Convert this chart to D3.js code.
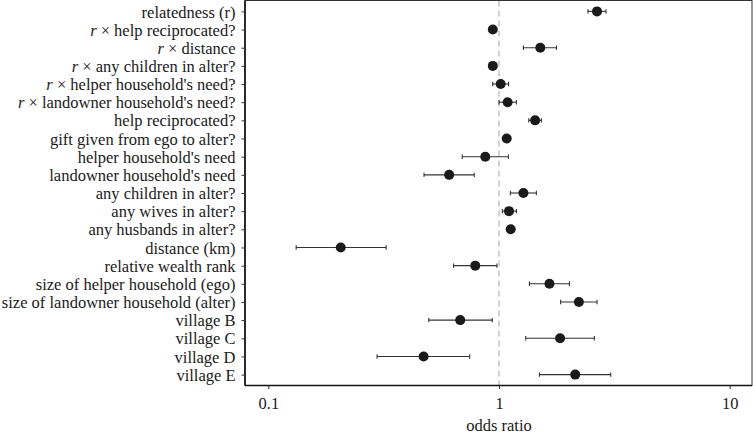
<!DOCTYPE html>
<html>
<head>
<meta charset="utf-8">
<script src="https://cdn.jsdelivr.net/npm/d3@7"></script>
<style>
  body { margin: 0; background: #fff; }
</style>
</head>
<body>
<div id="main"></div>
<script>
// term labels, top to bottom ("r" prefix is drawn in italics)
var terms = ["relatedness (r)", "r|help reciprocated?", "r|distance", "r|any children in alter?",
  "r|helper household's need?", "r|landowner household's need?", "help reciprocated?",
  "gift given from ego to alter?", "helper household's need", "landowner household's need",
  "any children in alter?", "any wives in alter?", "any husbands in alter?", "distance (km)",
  "relative wealth rank", "size of helper household (ego)", "size of landowner household (alter)",
  "village B", "village C", "village D", "village E"];
var est = [2.66, 0.94, 1.51, 0.94, 1.017, 1.09, 1.434, 1.08, 0.872, 0.608, 1.276, 1.105, 1.124,
  0.206, 0.789, 1.655, 2.22, 0.679, 1.84, 0.471, 2.14];
var lower = [2.43, 0.94, 1.276, 0.94, 0.939, 1.0, 1.346, 1.05, 0.693, 0.473, 1.12, 1.034, 1.10,
  0.132, 0.635, 1.355, 1.85, 0.496, 1.306, 0.296, 1.497];
var upper = [2.91, 0.94, 1.775, 0.94, 1.10, 1.19, 1.527, 1.11, 1.098, 0.781, 1.452, 1.19, 1.15,
  0.324, 0.98, 2.02, 2.66, 0.935, 2.59, 0.746, 3.05];
var xTicks = [0.1, 1, 10];

var w = 753, h = 434;
var m = {top: 0.5, right: 1, bottom: 48.5, left: 245};
var fs = 16.5;
var ff = "'Times', 'Liberation Serif', serif";

var svg = d3.select("#main").append("svg").
  attr("width", w).
  attr("height", h);

var x = d3.scaleLog().
  domain([0.0792, 12.5]).
  range([m.left, w - m.right]);

var y = d3.scalePoint().
  domain(terms).
  range([m.top, h - m.bottom]).
  padding(0.6);

var g = svg.append("g");

// reference line at 1
g.append("line").
  attr("x1", x(1)).attr("x2", x(1)).
  attr("y1", m.top).attr("y2", h - m.bottom).
  attr("stroke", "#c4c4c4").
  attr("stroke-width", 1.5).
  attr("stroke-dasharray", "6,4");

var rows = terms.map(function (t, i) {
  return {term: t, est: est[i], lo: lower[i], hi: upper[i]};
});

var bar = g.selectAll(".bar").
  data(rows).
  enter().
  append("g").
  attr("class", "bar").
  attr("stroke", "#333").
  attr("stroke-width", 1.1);

bar.append("line").
  attr("x1", function (d) {return x(d.lo);}).
  attr("x2", function (d) {return x(d.hi);}).
  attr("y1", function (d) {return y(d.term);}).
  attr("y2", function (d) {return y(d.term);});

bar.filter(function (d) {return d.hi > d.lo;}).
  selectAll(".cap").
  data(function (d) {return [[d.lo, d.term], [d.hi, d.term]];}).
  enter().
  append("line").
  attr("x1", function (d) {return x(d[0]);}).
  attr("x2", function (d) {return x(d[0]);}).
  attr("y1", function (d) {return y(d[1]) - 2.2;}).
  attr("y2", function (d) {return y(d[1]) + 2.2;});

g.selectAll(".pt").
  data(rows).
  enter().
  append("circle").
  attr("cx", function (d) {return x(d.est);}).
  attr("cy", function (d) {return y(d.term);}).
  attr("r", 5).
  attr("fill", "#1a1a1a");

// panel border
svg.append("rect").
  attr("x", m.left).attr("y", m.top).
  attr("width", w - m.right - m.left).
  attr("height", h - m.bottom - m.top).
  attr("fill", "none").
  attr("stroke", "#333").
  attr("stroke-width", 1);
svg.append("line").
  attr("x1", m.left).attr("x2", w - m.right).
  attr("y1", h - m.bottom).attr("y2", h - m.bottom).
  attr("stroke", "#111").attr("stroke-width", 1.6);
svg.append("line").
  attr("x1", m.left).attr("x2", m.left).
  attr("y1", m.top).attr("y2", h - m.bottom).
  attr("stroke", "#111").attr("stroke-width", 1.6);

// x axis
var xAxis = svg.append("g").
  attr("transform", "translate(0," + (h - m.bottom) + ")").
  call(d3.axisBottom(x).tickValues(xTicks).tickFormat(d3.format("")).tickSize(3.5).tickPadding(8));
xAxis.select(".domain").remove();
xAxis.selectAll("text").
  attr("font-size", fs).
  attr("fill", "#1a1a1a").
  style("font-family", ff);
xAxis.selectAll("line").attr("stroke", "#333");

svg.append("text").
  attr("x", x(1)).
  attr("y", h - 3).
  attr("text-anchor", "middle").
  attr("font-size", fs).
  attr("fill", "#1a1a1a").
  style("font-family", ff).
  text("odds ratio");

// y axis
var yAxis = svg.append("g").
  attr("transform", "translate(" + m.left + ",0)").
  call(d3.axisLeft(y).tickSize(3.5).tickPadding(6).tickFormat(""));
yAxis.select(".domain").remove();
yAxis.selectAll("line").attr("stroke", "#333");

yAxis.selectAll(".tick").append("text").
  attr("x", -9.5).
  attr("dy", "0.34em").
  attr("text-anchor", "end").
  attr("font-size", fs).
  attr("fill", "#1a1a1a").
  style("font-family", ff).
  each(function (d) {
    var t = d3.select(this);
    var parts = d.split("|");
    if (parts.length > 1) {
      t.append("tspan").style("font-style", "italic").text(parts[0]);
      t.append("tspan").text(" \u00d7 " + parts[1]);
    } else {
      t.text(d);
    }
  });
</script>
</body>
</html>
